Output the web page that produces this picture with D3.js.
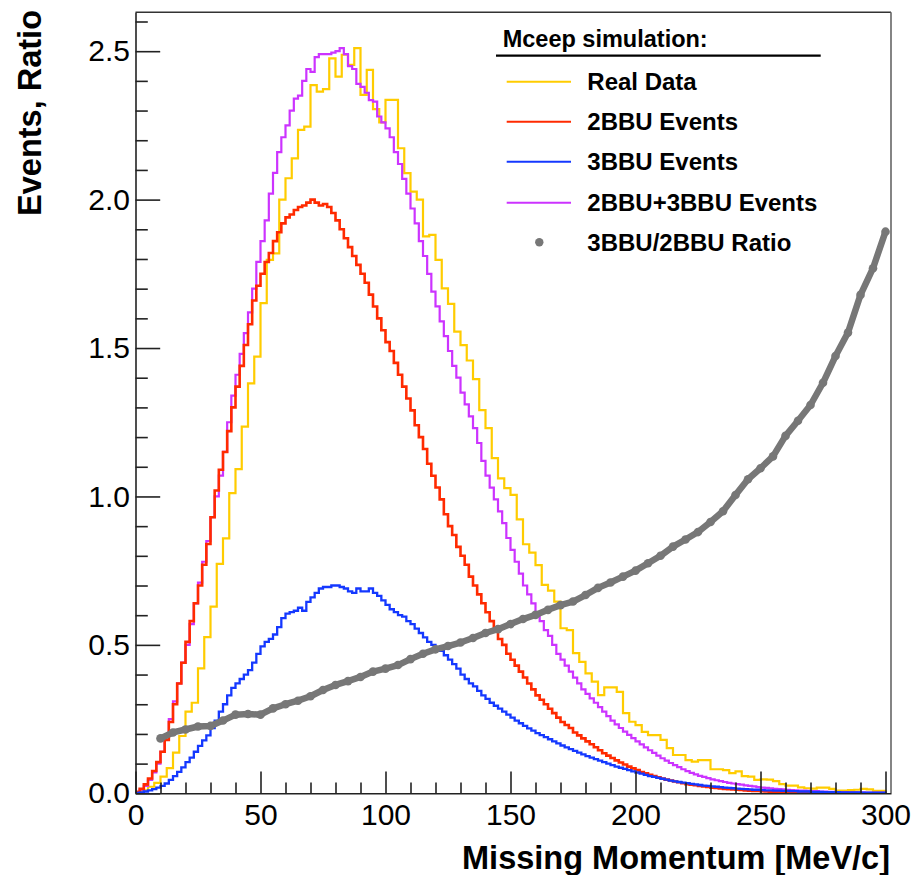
<!DOCTYPE html>
<html lang="en">
<head>
<meta charset="UTF-8">
<title>Missing Momentum - Mceep simulation</title>
<script src="https://d3js.org/d3.v7.min.js"></script>
<style>
  body { margin: 0; background: #fff; }
  svg { display: block; font-family: "Liberation Sans", Arial, Helvetica, sans-serif; }
  .axis .tick text { font-size: 30px; fill: #000; }
  .axis path, .axis line { stroke: #222; stroke-width: 1.6px; }
  .hist { fill: none; stroke-width: 2.2px; stroke-linejoin: miter; }
  .title { font-weight: bold; font-size: 32.5px; fill: #000; }
  .legend text { font-weight: bold; font-size: 24px; fill: #000; }
</style>
</head>
<body>
<svg width="914" height="875"></svg>
<script>
// Missing momentum axis, MeV/c
const xRange = [0, 302.2];
const yRange = [0, 2.631];
const xTicks = [0, 50, 100, 150, 200, 250, 300];
const yTicks = [0, 0.5, 1.0, 1.5, 2.0, 2.5];

// Real data: 120 bins of 2.5 MeV/c
const realData = [
  0.003, 0.010, 0.022, 0.035, 0.056, 0.085, 0.137, 0.193, 0.275, 0.305, 0.421, 0.526,
  0.629, 0.773, 0.859, 1.011, 1.092, 1.235, 1.381, 1.471, 1.651, 1.797, 1.819, 2.000,
  2.072, 2.139, 2.235, 2.246, 2.386, 2.364, 2.372, 2.476, 2.414, 2.488, 2.454, 2.510,
  2.353, 2.437, 2.305, 2.260, 2.336, 2.336, 2.173, 2.089, 2.027, 2.000, 1.876, 1.881,
  1.797, 1.701, 1.649, 1.555, 1.510, 1.458, 1.395, 1.291, 1.230, 1.129, 1.061, 1.028,
  1.005, 0.923, 0.839, 0.811, 0.769, 0.702, 0.683, 0.646, 0.556, 0.550, 0.472, 0.443,
  0.404, 0.376, 0.331, 0.357, 0.357, 0.342, 0.270, 0.241, 0.230, 0.207, 0.196, 0.196,
  0.180, 0.152, 0.129, 0.129, 0.112, 0.107, 0.112, 0.112, 0.081, 0.081, 0.078, 0.068,
  0.074, 0.058, 0.056, 0.045, 0.047, 0.046, 0.041, 0.031, 0.026, 0.026, 0.020, 0.017,
  0.016, 0.019, 0.019, 0.015, 0.009, 0.009, 0.011, 0.012, 0.015, 0.013, 0.008, 0.008
];

// simulation histograms: 180 bins over 0-300 (6 bins per row = 10 MeV/c)
const events2BBU = [
  0.005, 0.015, 0.03, 0.05, 0.075, 0.105,
  0.14, 0.18, 0.24, 0.30, 0.37, 0.44,
  0.51, 0.58, 0.64, 0.70, 0.77, 0.84,
  0.93, 1.02, 1.09, 1.15, 1.22, 1.30,
  1.37, 1.44, 1.51, 1.58, 1.66, 1.71,
  1.75, 1.79, 1.82, 1.86, 1.89, 1.92,
  1.94, 1.95, 1.965, 1.975, 1.98, 1.99,
  2.00, 1.99, 1.98, 1.985, 1.975, 1.955,
  1.93, 1.90, 1.87, 1.84, 1.81, 1.78,
  1.75, 1.72, 1.68, 1.64, 1.60, 1.56,
  1.52, 1.49, 1.45, 1.41, 1.37, 1.33,
  1.29, 1.24, 1.20, 1.16, 1.11, 1.07,
  1.03, 0.99, 0.94, 0.90, 0.87, 0.83,
  0.80, 0.77, 0.73, 0.70, 0.67, 0.64,
  0.61, 0.58, 0.55, 0.52, 0.50, 0.47,
  0.45, 0.43, 0.41, 0.39, 0.37, 0.35,
  0.33, 0.315, 0.30, 0.285, 0.27, 0.255,
  0.24, 0.23, 0.22, 0.205, 0.195, 0.185,
  0.175, 0.165, 0.155, 0.145, 0.135, 0.127,
  0.119, 0.111, 0.104, 0.097, 0.090, 0.084,
  0.078, 0.072, 0.067, 0.062, 0.058, 0.054,
  0.050, 0.046, 0.043, 0.040, 0.037, 0.034,
  0.031, 0.029, 0.027, 0.025, 0.023, 0.021,
  0.019, 0.018, 0.016, 0.015, 0.014, 0.013,
  0.012, 0.011, 0.010, 0.009, 0.008, 0.0075,
  0.007, 0.006, 0.0055, 0.005, 0.0045, 0.004,
  0.0035, 0.003, 0.003, 0.0025, 0.002, 0.002,
  0.0015, 0.0015, 0.001, 0.001, 0.001, 0.001,
  0.001, 0.0005, 0.0005, 0.0005, 0.0005, 0,
  0, 0, 0, 0, 0, 0
];

const events3BBU = [
  0.001, 0.003, 0.006, 0.010, 0.014, 0.019,
  0.025, 0.033, 0.045, 0.058, 0.072, 0.087,
  0.105, 0.12, 0.14, 0.16, 0.178, 0.195,
  0.22, 0.245, 0.275, 0.30, 0.33, 0.355,
  0.37, 0.385, 0.40, 0.415, 0.44, 0.47,
  0.495, 0.51, 0.52, 0.535, 0.56, 0.59,
  0.605, 0.61, 0.615, 0.625, 0.615, 0.645,
  0.66, 0.675, 0.69, 0.695, 0.695, 0.70,
  0.70, 0.695, 0.69, 0.68, 0.675, 0.69,
  0.68, 0.68, 0.69, 0.675, 0.665, 0.65,
  0.635, 0.62, 0.61, 0.60, 0.595, 0.58,
  0.57, 0.555, 0.54, 0.525, 0.51, 0.50,
  0.49, 0.48, 0.465, 0.45, 0.435, 0.42,
  0.40, 0.385, 0.37, 0.36, 0.345, 0.33,
  0.318, 0.305, 0.295, 0.285, 0.275, 0.265,
  0.255, 0.245, 0.236, 0.227, 0.219, 0.211,
  0.203, 0.196, 0.189, 0.182, 0.175, 0.168,
  0.161, 0.155, 0.149, 0.143, 0.137, 0.131,
  0.125, 0.120, 0.115, 0.110, 0.105, 0.100,
  0.095, 0.090, 0.086, 0.082, 0.078, 0.074,
  0.070, 0.066, 0.062, 0.058, 0.055, 0.052,
  0.049, 0.046, 0.043, 0.040, 0.038, 0.036,
  0.034, 0.032, 0.030, 0.028, 0.026, 0.025,
  0.023, 0.022, 0.021, 0.019, 0.018, 0.017,
  0.016, 0.015, 0.014, 0.013, 0.012, 0.012,
  0.011, 0.010, 0.010, 0.009, 0.009, 0.008,
  0.008, 0.007, 0.007, 0.006, 0.006, 0.006,
  0.005, 0.005, 0.005, 0.004, 0.004, 0.004,
  0.004, 0.003, 0.003, 0.003, 0.003, 0.003,
  0.002, 0.002, 0.002, 0.002, 0.002, 0.002
];

const eventsSum = [
  0.003, 0.012, 0.025, 0.045, 0.07, 0.10,
  0.14, 0.19, 0.25, 0.31, 0.37, 0.44,
  0.50, 0.57, 0.64, 0.71, 0.78, 0.85,
  0.93, 1.00, 1.07, 1.15, 1.25, 1.34,
  1.41, 1.48, 1.55, 1.62, 1.70, 1.79,
  1.86, 1.93, 2.02, 2.09, 2.16, 2.21,
  2.25, 2.30, 2.34, 2.35, 2.40, 2.44,
  2.43, 2.48, 2.49, 2.49, 2.49, 2.495,
  2.50, 2.51, 2.49, 2.45, 2.44, 2.39,
  2.38, 2.36, 2.335, 2.33, 2.28, 2.26,
  2.24, 2.21, 2.16, 2.12, 2.07, 2.02,
  1.97, 1.92, 1.86, 1.81, 1.75, 1.69,
  1.64, 1.59, 1.54, 1.49, 1.44, 1.40,
  1.35, 1.31, 1.27, 1.23, 1.18, 1.12,
  1.07, 1.03, 0.99, 0.95, 0.91, 0.86,
  0.82, 0.78, 0.74, 0.70, 0.67, 0.64,
  0.61, 0.58, 0.55, 0.53, 0.50, 0.47,
  0.45, 0.43, 0.41, 0.39, 0.37, 0.35,
  0.335, 0.32, 0.305, 0.29, 0.275, 0.26,
  0.245, 0.232, 0.22, 0.208, 0.197, 0.186,
  0.175, 0.165, 0.155, 0.145, 0.136, 0.127,
  0.118, 0.11, 0.102, 0.095, 0.088, 0.081,
  0.075, 0.069, 0.064, 0.059, 0.055, 0.051,
  0.047, 0.044, 0.041, 0.038, 0.035, 0.033,
  0.031, 0.029, 0.027, 0.025, 0.023, 0.021,
  0.019, 0.018, 0.017, 0.015, 0.014, 0.013,
  0.012, 0.011, 0.010, 0.009, 0.009, 0.008,
  0.007, 0.007, 0.006, 0.006, 0.005, 0.005,
  0.004, 0.004, 0.004, 0.003, 0.003, 0.003,
  0.003, 0.002, 0.002, 0.002, 0.002, 0.002
];

// 3BBU/2BBU ratio points
const ratioMomentum = [
  10, 15, 20, 25, 30, 35, 40, 45, 50, 55, 60, 65, 70, 75, 80, 85, 90, 95, 100,
  105, 110, 115, 120, 125, 130, 135, 140, 145, 150, 155, 160, 165, 170, 175, 180,
  185, 190, 195, 200, 205, 210, 215, 220, 225, 230, 235, 240, 245, 250, 255, 260,
  265, 270, 275, 280, 285, 290, 295, 300
];
const ratioValues = [
  0.185, 0.205, 0.215, 0.225, 0.227, 0.245, 0.265, 0.267, 0.265, 0.286, 0.300, 0.312,
  0.327, 0.348, 0.365, 0.378, 0.392, 0.410, 0.420, 0.432, 0.452, 0.470, 0.485, 0.496,
  0.508, 0.523, 0.540, 0.553, 0.570, 0.587, 0.601, 0.618, 0.634, 0.646, 0.668, 0.692,
  0.710, 0.730, 0.750, 0.775, 0.800, 0.831, 0.855, 0.880, 0.914, 0.950, 1.005, 1.058,
  1.095, 1.135, 1.204, 1.255, 1.308, 1.383, 1.473, 1.552, 1.679, 1.769, 1.892
];

const legendTitle = "Mceep simulation:";
const legendNames = ["Real Data", "2BBU Events", "3BBU Events", "2BBU+3BBU Events", "3BBU/2BBU Ratio"];
const colors = {
  data: "#ffcc00",
  bbu2: "#ff2a00",
  bbu3: "#1438ff",
  sum: "#cc33ff",
  ratio: "#777777"
};

const svg = d3.select("svg");
const x = d3.scaleLinear().domain(xRange).range([135.5, 891]);
const y = d3.scaleLinear().domain(yRange).range([793.3, 12.3]);

svg.append("defs").append("clipPath").attr("id", "plotclip")
  .append("rect")
  .attr("x", x(0)).attr("y", y(yRange[1]))
  .attr("width", x(xRange[1]) - x(0))
  .attr("height", y(0) - y(yRange[1]));

// frame top / right
svg.append("line")
  .attr("x1", x(0)).attr("x2", x(xRange[1]))
  .attr("y1", y(yRange[1])).attr("y2", y(yRange[1]))
  .attr("stroke", "#333").attr("stroke-width", 1.6);
svg.append("line")
  .attr("x1", x(xRange[1])).attr("x2", x(xRange[1]))
  .attr("y1", y(yRange[1])).attr("y2", y(0))
  .attr("stroke", "#666").attr("stroke-width", 1.6);

// histogram outline as ROOT draws it
function stepPoints(vals, width) {
  const pts = [[0, 0]];
  vals.forEach((v, i) => {
    pts.push([i * width, v]);
    pts.push([(i + 1) * width, v]);
  });
  pts.push([vals.length * width, 0]);
  return pts;
}

const line = d3.line().x(d => x(d[0])).y(d => y(d[1]));
const plot = svg.append("g").attr("clip-path", "url(#plotclip)");

const hists = [
  { vals: realData, width: 300 / realData.length, color: colors.data, lw: 2.2 },
  { vals: eventsSum, width: 300 / eventsSum.length, color: colors.sum, lw: 2.2 },
  { vals: events2BBU, width: 300 / events2BBU.length, color: colors.bbu2, lw: 2.6 },
  { vals: events3BBU, width: 300 / events3BBU.length, color: colors.bbu3, lw: 2.3 }
];

hists.forEach(h => {
  plot.append("path")
    .attr("class", "hist")
    .attr("stroke", h.color)
    .style("stroke-width", h.lw + "px")
    .attr("d", line(stepPoints(h.vals, h.width)));
});

// ratio: thick grey line with dots
const ratioPts = ratioMomentum.map((m, i) => [m, ratioValues[i]]);
plot.append("path")
  .attr("fill", "none")
  .attr("stroke", colors.ratio)
  .attr("stroke-width", 6.5)
  .attr("stroke-linejoin", "round")
  .attr("stroke-linecap", "round")
  .attr("d", line(ratioPts));
plot.selectAll(".rdot")
  .data(ratioPts)
  .enter()
  .append("circle")
  .attr("class", "rdot")
  .attr("cx", d => x(d[0]))
  .attr("cy", d => y(d[1]))
  .attr("r", 4.3)
  .attr("fill", colors.ratio);

// axes
const minorY = d3.range(0, 2.65, 0.1).filter(v => Math.abs(v * 2 - Math.round(v * 2)) > 1e-6);
const minorX = d3.range(0, 301, 10).filter(v => v % 50 !== 0);

svg.append("g").attr("class", "axis")
  .attr("transform", `translate(${x(0)},0)`)
  .call(d3.axisLeft(y).tickValues(minorY).tickSize(-12.3).tickFormat(""))
  .call(g => g.select(".domain").remove());
svg.append("g").attr("class", "axis")
  .attr("transform", `translate(0,${y(0)})`)
  .call(d3.axisBottom(x).tickValues(minorX).tickSize(-10.7).tickFormat(""))
  .call(g => g.select(".domain").remove());

svg.append("g").attr("class", "axis")
  .attr("transform", `translate(${x(0)},0)`)
  .call(d3.axisLeft(y).tickValues(yTicks).tickFormat(d3.format(".1f"))
    .tickSizeInner(-24.7).tickSizeOuter(0).tickPadding(5.5));
svg.append("g").attr("class", "axis")
  .attr("transform", `translate(0,${y(0)})`)
  .call(d3.axisBottom(x).tickValues(xTicks).tickFormat(d3.format("d"))
    .tickSizeInner(-21.7).tickSizeOuter(0).tickPadding(10.4));

// axis titles
svg.append("text")
  .attr("class", "title")
  .attr("text-anchor", "end")
  .attr("x", 890).attr("y", 869)
  .text("Missing Momentum [MeV/c]");
svg.append("text")
  .attr("class", "title")
  .attr("text-anchor", "end")
  .attr("transform", "translate(41,10) rotate(-90)")
  .text("Events, Ratio");

// legend
const legend = svg.append("g").attr("class", "legend");
legend.append("text")
  .attr("x", 502.7).attr("y", 47)
  .style("font-size", "23.5px")
  .text(legendTitle);
legend.append("line")
  .attr("x1", 496).attr("x2", 820.7)
  .attr("y1", 55.7).attr("y2", 55.7)
  .attr("stroke", "#000").attr("stroke-width", 2.2);

const legendColors = [colors.data, colors.bbu2, colors.bbu3, colors.sum, colors.ratio];
const rowY = [81.7, 121.7, 161.7, 202.7, 242.3];

legendNames.forEach((name, i) => {
  const row = legend.append("g").attr("transform", `translate(0,${rowY[i]})`);
  if (i < 4) {
    row.append("line")
      .attr("x1", 506.7).attr("x2", 571)
      .attr("stroke", legendColors[i]).attr("stroke-width", 2);
  } else {
    row.append("circle")
      .attr("cx", 539.3).attr("r", 4.2)
      .attr("fill", legendColors[i]);
  }
  row.append("text")
    .attr("x", 587.3).attr("y", 8.5)
    .text(name);
});
</script>
</body>
</html>
